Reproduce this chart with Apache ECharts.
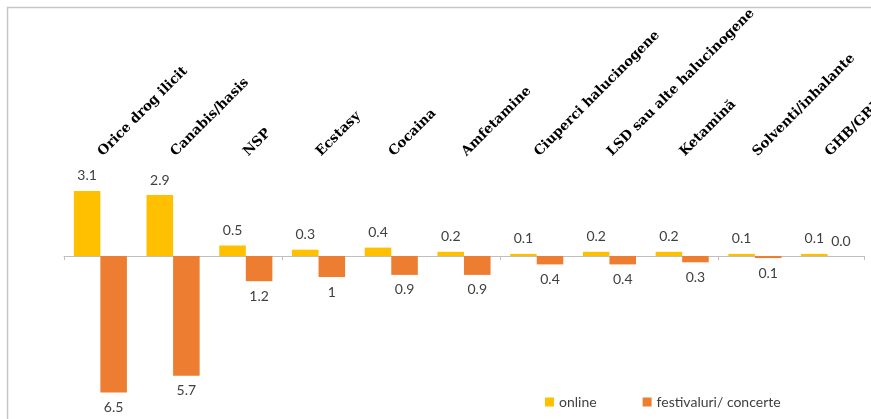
<!DOCTYPE html>
<html>
<head>
<meta charset="utf-8">
<script src="https://cdn.jsdelivr.net/npm/echarts@6/dist/echarts.min.js"></script>
<style>
  html, body { margin: 0; padding: 0; background: #fff; }
  #chart { width: 871px; height: 419px; }
</style>
</head>
<body>
<div id="chart"></div>
<script>
// Drug categories (shown along the top)
const categories = [
  'Orice drog ilicit', 'Canabis/hasis', 'NSP', 'Ecstasy', 'Cocaina',
  'Amfetamine', 'Ciuperci halucinogene', 'LSD sau alte halucinogene',
  'Ketamină', 'Solventi/inhalante', 'GHB/GBL'
];
// Percent bought online (drawn upward)
const onlineValues = [3.1, 2.9, 0.5, 0.3, 0.4, 0.2, 0.1, 0.2, 0.2, 0.1, 0.1];
// Percent bought at festivals / concerts (drawn downward)
const festivalValues = [6.5, 5.7, 1.2, 1, 0.9, 0.9, 0.4, 0.4, 0.3, 0.1, 0.0];

const seriesNames = ['online', 'festivaluri/ concerte'];

const labelFont = {
  fontFamily: 'Lato, "Open Sans", sans-serif',
  fontSize: 14,
  color: '#404040'
};

const fmt = p => {
  const v = Math.abs(p.value);
  return v === 0 ? '0.0' : String(v);
};

const chart = echarts.init(document.getElementById('chart'), null, { renderer: 'canvas' });

chart.setOption({
  animation: false,
  backgroundColor: '#ffffff',
  graphic: [{
    type: 'rect',
    shape: { x: 7.5, y: 7.5, width: 900, height: 500 },
    style: { fill: 'none', stroke: '#c6c6c6', lineWidth: 1.5 },
    silent: true
  }],
  legend: {
    left: 540,
    top: 390,
    itemWidth: 9,
    itemHeight: 9,
    itemGap: 46,
    icon: 'rect',
    textStyle: { fontFamily: 'Lato, "Open Sans", sans-serif', fontSize: 14, color: '#404040' },
    data: seriesNames
  },
  grid: { left: 64, right: 7, top: 151, bottom: 16, outerBoundsMode: 'none', containLabel: false },
  xAxis: [{
    type: 'category',
    data: categories,
    position: 'bottom',
    axisLine: { onZero: true, lineStyle: { color: '#bfbfbf', width: 1 } },
    axisTick: { show: true, length: 4, lineStyle: { color: '#bfbfbf' } },
    axisLabel: { show: false }
  }, {
    type: 'category',
    data: categories,
    position: 'top',
    axisLine: { show: false },
    axisTick: { show: false },
    axisLabel: {
      rotate: -45,
      interval: 0,
      margin: -3,
      hideOverlap: false,
      fontFamily: '"DejaVu Serif", serif',
      fontWeight: 'bold',
      fontSize: 13.5,
      color: '#000'
    }
  }],
  yAxis: {
    type: 'value',
    min: -7,
    max: 5,
    show: false,
    splitLine: { show: false }
  },
  series: [{
    name: seriesNames[0],
    type: 'bar',
    xAxisIndex: 0,
    data: onlineValues,
    barGap: '0%',
    barCategoryGap: '27%',
    itemStyle: { color: '#FFC000' },
    label: Object.assign({ show: true, position: 'top', distance: 8, formatter: fmt }, labelFont)
  }, {
    name: seriesNames[1],
    type: 'bar',
    xAxisIndex: 0,
    data: festivalValues.map(v => v === 0
      ? { value: -v, label: { position: 'top', distance: 8 } }
      : -v),
    itemStyle: { color: '#ED7D31' },
    label: Object.assign({ show: true, position: 'bottom', distance: 8, formatter: fmt }, labelFont)
  }]
});
</script>
</body>
</html>
